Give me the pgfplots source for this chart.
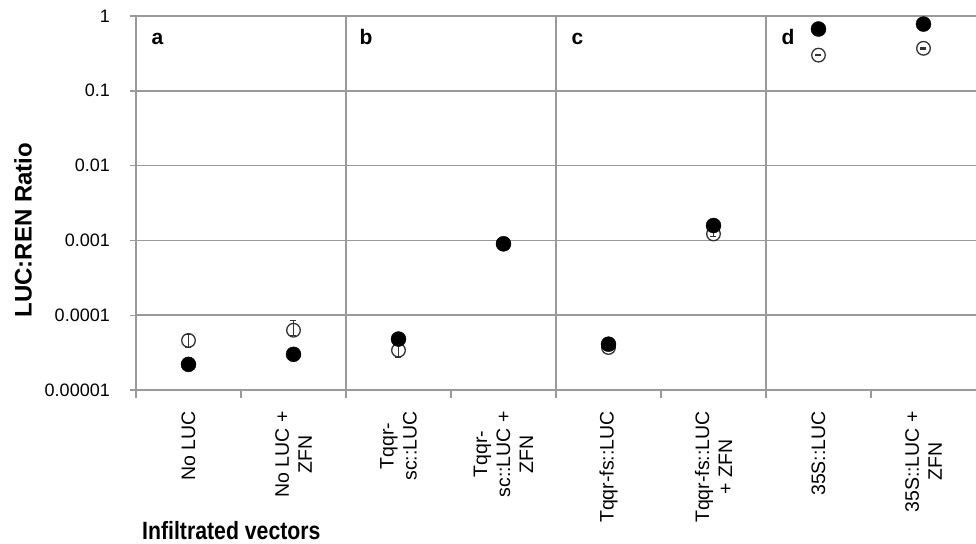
\documentclass[border=0pt]{standalone}
\usepackage{pgfplots}
\pgfplotsset{compat=1.18}
\usepackage{fontspec}
\setmainfont{Liberation Sans}
\definecolor{gridgray}{HTML}{9A9A9A}
\definecolor{markgray}{HTML}{333333}
\pgfplotstableread{
x y
0 2.2e-5
1 3.0e-5
2 4.8e-5
3 9.0e-4
4 4.1e-5
5 1.58e-3
6 0.67
7 0.78
}\filled
\pgfplotstableread{
x y ep em
0 4.6e-5 0.9e-5 0.9e-5
1 6.3e-5 2.3e-5 1.0e-5
2 3.4e-5 0.7e-5 0.7e-5
3 9.0e-4 0.5e-4 0.5e-4
4 3.7e-5 0.3e-5 0.3e-5
5 1.22e-3 0.1e-3 0.1e-3
6 0.30 0.006 0.006
7 0.37 0.007 0.007
}\open
\begin{document}
\begin{tikzpicture}
\useasboundingbox (-136bp,-154bp) rectangle (840bp,390bp);
\begin{axis}[
  at={(0,0)}, anchor=south west,
  scale only axis, width=840bp, height=374bp,
  ymode=log, ymin=1e-5, ymax=1,
  xmin=-0.5, xmax=7.5,
  axis x line*=bottom, axis y line*=left,
  axis line style={gridgray, line width=1.6bp},
  ytick={1e-5,1e-4,1e-3,1e-2,1e-1,1},
  yticklabels={0.00001,0.0001,0.001,0.01,0.1,1},
  yminorticks=false,
  ymajorgrids, major grid style={gridgray, line width=1.6bp},
  tick align=center,
  major tick length=12bp,
  tick style={gridgray, line width=1.4bp},
  xtick={0,...,7},
  major x tick style={draw=none},
  xticklabels={{No LUC},{No LUC +\\ZFN},{Tqqr-\\sc::LUC},{Tqqr-\\sc::LUC +\\ZFN},{Tqqr-fs::LUC},{Tqqr-fs::LUC\\+ ZFN},{35S::LUC},{35S::LUC +\\ZFN}},
  xticklabel style={rotate=90, anchor=east, align=center, inner sep=0pt, xshift=-15bp,
    font=\fontsize{19.5bp}{23bp}\selectfont},
  yticklabel style={anchor=east, inner sep=0pt, xshift=-20bp,
    font=\fontsize{18bp}{20bp}\selectfont},
  clip=false,
]
\draw[gridgray, line width=1.6bp] (axis cs:1.5,1) -- ([yshift=-8bp]axis cs:1.5,1e-5);
\draw[gridgray, line width=1.6bp] (axis cs:3.5,1) -- ([yshift=-8bp]axis cs:3.5,1e-5);
\draw[gridgray, line width=1.6bp] (axis cs:5.5,1) -- ([yshift=-8bp]axis cs:5.5,1e-5);
\draw[gridgray, line width=1.4bp] (axis cs:-0.5,1e-5) -- ([yshift=-8bp]axis cs:-0.5,1e-5);
\draw[gridgray, line width=1.4bp] (axis cs:0.5,1e-5) -- ([yshift=-8bp]axis cs:0.5,1e-5);
\draw[gridgray, line width=1.4bp] (axis cs:2.5,1e-5) -- ([yshift=-8bp]axis cs:2.5,1e-5);
\draw[gridgray, line width=1.4bp] (axis cs:4.5,1e-5) -- ([yshift=-8bp]axis cs:4.5,1e-5);
\draw[gridgray, line width=1.4bp] (axis cs:6.5,1e-5) -- ([yshift=-8bp]axis cs:6.5,1e-5);
\addplot[only marks, mark=o, mark size=6.8bp, draw=markgray, line width=1.3bp,
  error bars/.cd, y dir=both, y explicit,
  error bar style={markgray, line width=1.2bp},
  error mark options={rotate=90, mark size=3bp, line width=1.2bp}]
  table[x=x, y=y, y error plus=ep, y error minus=em] {\open};
\addplot[only marks, mark=*, mark size=7.5bp, black, fill=black]
  table[x=x, y=y] {\filled};
\node[anchor=base west, font=\bfseries\fontsize{21bp}{24bp}\selectfont] at ([shift={(12bp,-28bp)}]axis cs:-0.5,1) {a};
\node[anchor=base west, font=\bfseries\fontsize{21bp}{24bp}\selectfont] at ([shift={(10bp,-28bp)}]axis cs:1.5,1) {b};
\node[anchor=base west, font=\bfseries\fontsize{21bp}{24bp}\selectfont] at ([shift={(12bp,-28bp)}]axis cs:3.5,1) {c};
\node[anchor=base west, font=\bfseries\fontsize{21bp}{24bp}\selectfont] at ([shift={(12bp,-28bp)}]axis cs:5.5,1) {d};
\end{axis}
\node[rotate=90, font=\bfseries\fontsize{24bp}{28bp}\selectfont] at (-113bp,160bp) {LUC:REN Ratio};
\node[anchor=base west, inner sep=0pt, font=\bfseries\fontsize{25bp}{28bp}\selectfont] at (6bp,-149bp) {\scalebox{0.85}[1]{Infiltrated vectors}};
\end{tikzpicture}
\end{document}
